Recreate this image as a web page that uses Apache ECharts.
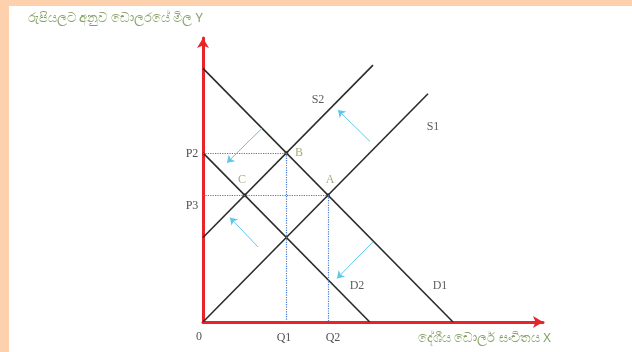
<!DOCTYPE html>
<html>
<head>
<meta charset="utf-8">
<style>
  html, body { margin: 0; padding: 0; background: #fdd0ae; }
  #chart { position: absolute; left: 9px; top: 6px; width: 623px; height: 346px; background: #fff; }
</style>
<script src="https://cdn.jsdelivr.net/npm/echarts@6/dist/echarts.min.js"></script>
</head>
<body>
<div id="chart"></div>
<script>
// curves (x = quantity of dollars, y = price in rupees)
const demand1 = [[0, 25], [25, 0]]
const demand2 = [[0, 16.67], [16.67, 0]]
const supply1 = [[0, 0], [22.5, 22.5]]
const supply2 = [[0, 8.33], [17, 25.33]]

// equilibrium points
const points = [['A', 12.5, 12.5], ['B', 8.33, 16.67], ['C', 4.17, 12.5]]

// dotted guide lines
const guides = [
  [[0, 16.67], [8.33, 16.67]],
  [[8.33, 16.67], [8.33, 0]],
  [[0, 12.5], [12.5, 12.5]],
  [[12.5, 12.5], [12.5, 0]]
]

// shift arrows [from, to]
const shifts = [
  [[5.9, 19.1], [2.4, 15.7]],
  [[16.7, 17.8], [13.5, 20.9]],
  [[5.5, 7.4], [2.7, 10.3]],
  [[17.0, 7.9], [13.4, 4.3]]
]

// tick labels on axes
const tickLabels = [['0', -0.4, -1.5], ['Q1', 8.1, -1.6], ['Q2', 13, -1.6], ['P2', -1.1, 16.6], ['P3', -1.1, 11.5]]
// curve names
const curveLabels = [['S2', 11.5, 21.9], ['S1', 23, 19.2], ['D2', 15.4, 3.6], ['D1', 23.7, 3.6]]
// point names
const pointLabels = [['A', 12.7, 14], ['B', 9.6, 16.7], ['C', 3.9, 14]]

const yTitle = 'රුපියලට අනුව ඩොලරයේ මිල Y'
const xTitle = 'දේශීය ඩොලර් සංචිතය X'

const chart = echarts.init(document.getElementById('chart'))

const curveLine = (data) => ({
  type: 'line',
  data: data,
  symbol: 'none',
  silent: true,
  animation: false,
  lineStyle: { color: '#2b2b2b', width: 1.6 }
})

const textSeries = (arr, color, size) => ({
  type: 'scatter',
  symbolSize: 0,
  clip: false,
  silent: true,
  animation: false,
  data: arr.map(d => ({ name: d[0], value: [d[1], d[2]] })),
  label: {
    show: true,
    position: 'inside',
    formatter: '{b}',
    color: color,
    fontFamily: 'Liberation Serif',
    fontSize: size
  }
})

chart.setOption({
  animation: false,
  title: [
    {
      text: yTitle,
      left: 19, top: 6, padding: 0,
      textStyle: { color: '#86a066', fontSize: 13, fontWeight: 'normal', fontFamily: 'Noto Sans' }
    },
    {
      text: xTitle,
      left: 409, top: 326, padding: 0,
      textStyle: { color: '#86a066', fontSize: 13, fontWeight: 'normal', fontFamily: 'Noto Sans' }
    }
  ],
  grid: { left: 194, top: 32, right: 89, bottom: 30 },
  xAxis: {
    type: 'value', min: 0, max: 34,
    axisLine: { lineStyle: { color: '#e8232a', width: 3 }, symbol: ['none', 'arrow'], symbolSize: [9, 10] },
    axisTick: { show: false }, axisLabel: { show: false }, splitLine: { show: false }
  },
  yAxis: {
    type: 'value', min: 0, max: 28,
    axisLine: { lineStyle: { color: '#e8232a', width: 3 }, symbol: ['none', 'arrow'], symbolSize: [9, 10] },
    axisTick: { show: false }, axisLabel: { show: false }, splitLine: { show: false }
  },
  series: [
    curveLine(demand1),
    curveLine(demand2),
    curveLine(supply1),
    curveLine(supply2),
    {
      type: 'line',
      data: [],
      silent: true,
      markLine: {
        silent: true,
        animation: false,
        symbol: ['none', 'none'],
        label: { show: false },
        lineStyle: { color: '#4a78c8', width: 1.2, type: 'dotted' },
        data: guides.map(g => [{ coord: g[0] }, { coord: g[1] }])
      }
    },
    {
      type: 'line',
      data: [],
      silent: true,
      markLine: {
        silent: true,
        animation: false,
        symbol: ['none', 'arrow'],
        symbolSize: 7,
        label: { show: false },
        lineStyle: { color: '#62c6e8', width: 1, type: 'solid' },
        data: shifts.map(s => [{ coord: s[0] }, { coord: s[1] }])
      }
    },
    {
      type: 'scatter',
      symbol: 'rect',
      symbolSize: 4,
      silent: true,
      animation: false,
      itemStyle: { color: '#5a6b44' },
      data: points.map(p => ({ name: p[0], value: [p[1], p[2]] }))
    },
    textSeries(tickLabels, '#222', 12),
    textSeries(curveLabels, '#333', 12),
    textSeries(pointLabels, '#8a9a5b', 12)
  ]
})
</script>
</body>
</html>
